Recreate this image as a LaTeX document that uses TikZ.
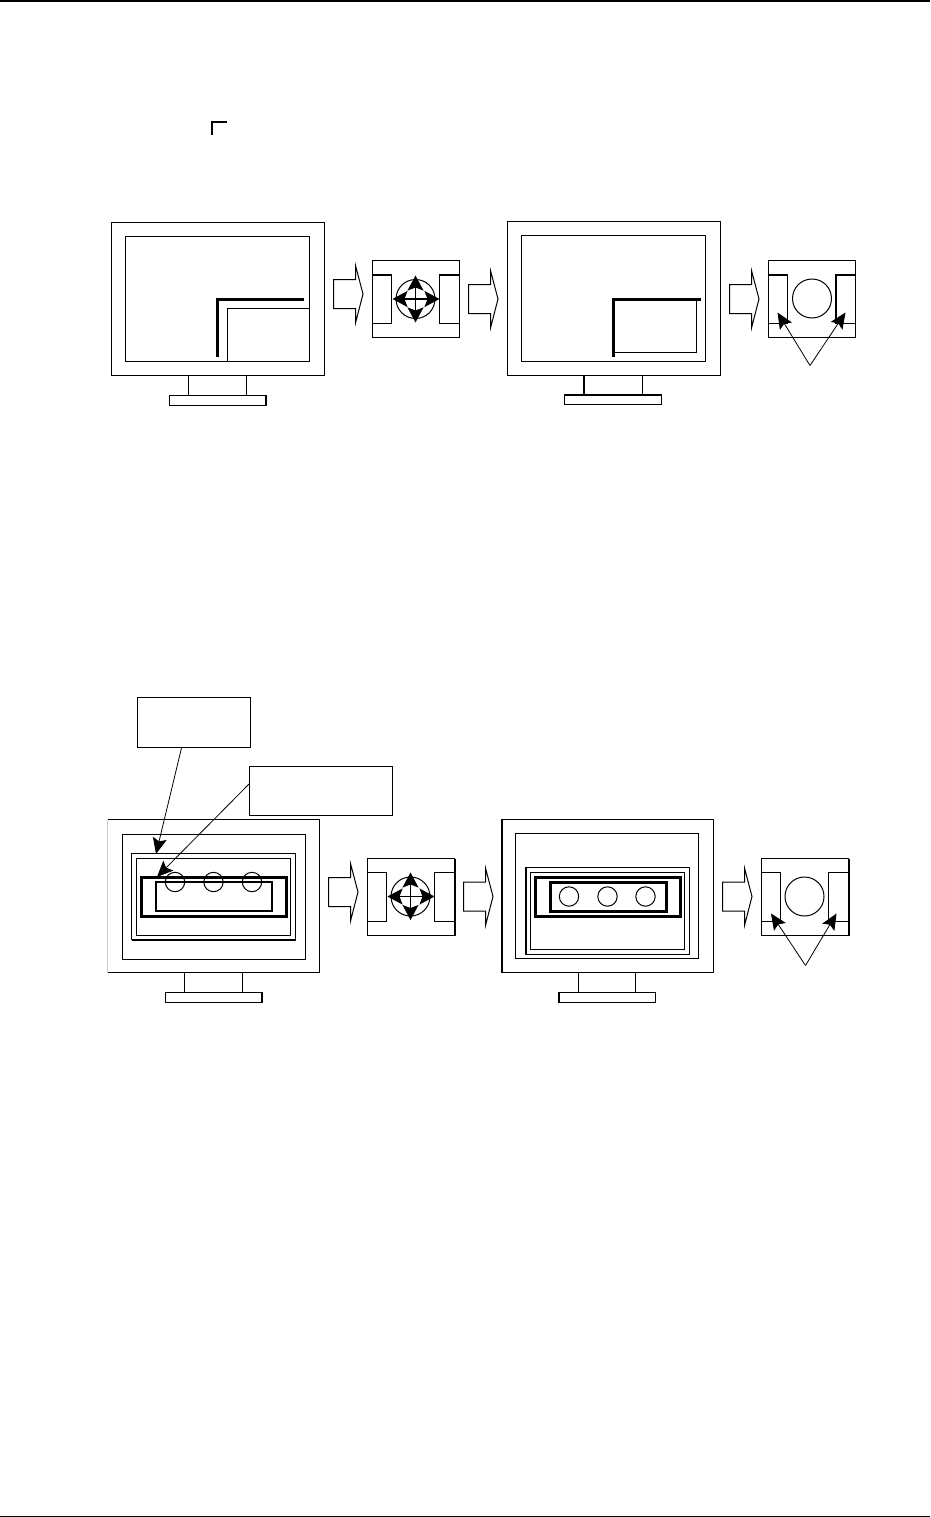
\documentclass[tikz,border=0pt]{standalone}
\usepackage{xcolor}
\usepackage{tikz}
\usetikzlibrary{positioning, arrows.meta}

\begin{document}
\begin{tikzpicture}[
    x=1pt, y=-1pt,
    every path/.style={line width=1pt},
    heavy/.style={line width=2pt},
    heavier/.style={line width=3pt},
    callout/.style={rectangle, draw, line width=1pt, inner sep=0pt, minimum width=#1, minimum height=50pt},
    ringnode/.style={circle, draw, line width=1pt, inner sep=0pt, minimum size=#1},
    arr/.style={-{Stealth[length=16pt, width=14pt, inset=3pt]}, line width=0.8pt},
    crossarr/.style={{Stealth[length=15pt, width=16pt, inset=3pt]}-{Stealth[length=15pt, width=16pt, inset=3pt]}},
]
    \useasboundingbox (0,0) rectangle (930,1517);

    % page rules
    \coordinate (ruleTL) at (0,1);
    \coordinate (ruleTR) at (930,1);
    \coordinate (ruleBL) at (0,1516);
    \coordinate (ruleBR) at (930,1516);
    \draw[heavy] (ruleTL) -- (ruleTR);
    \draw (ruleBL) -- (ruleBR);

    % corner mark
    \draw[line width=1.5pt] (212,135.5) |- (227,122);

    % block arrows between the panels
    \foreach \ax/\ay in {333.5/294, 468.5/299, 729.5/299, 328.5/892, 463.5/896.5, 722.5/896.5} {
        \draw (\ax,\ay-14.5) -- ++(22,0) -- ++(0,-14) -- (\ax+29.5,\ay) -- (\ax+22,\ay+29) -- ++(0,-14.5) -- (\ax,\ay+14.5) -- cycle;
    }

    % first monitor
    \draw (111.5,222.5) rectangle (324.5,375.5);
    \draw (125.5,236.5) rectangle (309.5,361.5);
    \draw (188.5,375.5) -- (188.5,395.5);
    \draw (246.5,375.5) -- (246.5,395.5);
    \draw (169.5,395.5) rectangle (266.5,405.5);
    \draw[heavy] (266,395.5) -- (266,405.5);
    \draw (227.5,361.5) |- (309.5,308.5);
    \draw[heavier] (217.5,356.5) |- (304,299);

    % second monitor
    \draw (507.5,221.5) rectangle (720.5,375.5);
    \draw (521.5,235.5) rectangle (705.5,361.5);
    \draw[heavy] (584,375.5) -- (584,394.5);
    \draw (642.5,375.5) -- (642.5,394.5);
    \draw (564.5,394.5) rectangle (661.5,404.5);
    \draw[heavy] (564.5,395) -- (661.5,395);
    \draw (613.5,352.5) -| (696.5,299);
    \draw[heavier] (613.5,356.5) |- (700.5,299);

    % third monitor
    \draw[gray!40] (107.5,819.5) -- (107.5,972.5);
    \draw (107.5,819.5) -| (319.5,972.5) -- (107.5,972.5);
    \draw (122.5,834.5) rectangle (305.5,959.5);
    \draw (131.5,853.5) rectangle (295.5,939.5);
    \draw[heavy] (131.5,940) -- (295.5,940);
    \draw (136.5,858.5) rectangle (290.5,935.5);
    \draw[heavier] (141,877) rectangle (286.5,916);
    \draw[heavy] (156,882) rectangle (272,910.5);
    \foreach \cx in {175,213.5,252} {
        \draw (\cx,882) circle (9.7);
    }
    \draw (184.5,972.5) -- (184.5,992.5);
    \draw (242.5,972.5) -- (242.5,992.5);
    \draw (165.5,992.5) rectangle (262.5,1002.5);
    \draw[heavy] (262,992.5) -- (262,1002.5);

    % fourth monitor
    \draw (501.5,819.5) rectangle (713.5,972.5);
    \draw[heavy] (502,819.5) -- (502,972.5);
    \draw (515.5,833.5) rectangle (698.5,958.5);
    \draw (525.5,867.5) rectangle (689.5,954.5);
    \draw[heavy] (526,867.5) -- (526,954.5);
    \draw (530.5,872.5) rectangle (684.5,949.5);
    \draw[heavier] (535,877) rectangle (680.5,916);
    \draw[heavier] (550,882) rectangle (666,911);
    \foreach \cx in {569,607.5,645.5} {
        \draw (\cx,896.5) circle (9.7);
    }
    \draw (578.5,972.5) -- (578.5,992.5);
    \draw (635.5,972.5) -- (635.5,992.5);
    \draw (558.5,992.5) rectangle (655.5,1002.5);
    \draw[heavy] (559,992.5) -- (559,1002.5);

    % pads
    \foreach \px/\py in {372.5/260.5, 768.5/260.5, 367.5/858.5, 761.5/858.5} {
        \draw (\px,\py) rectangle +(87,77);
        \draw (\px,\py+14) -| (\px+19,\py+63) -- (\px,\py+63);
        \draw (\px+87,\py+14) -| (\px+67,\py+63) -- (\px+87,\py+63);
    }
    \draw[heavy] (372.5,274.5) -- (391.5,274.5);
    \draw[heavy] (439.5,274.5) -- (459.5,274.5);
    \draw[heavy] (768.5,274.5) -- (787.5,274.5);
    \draw[heavy] (855.5,274.5) -| (836,323.5);
    \draw[heavy] (454.5,858.5) -- (454.5,935.5);
    \draw[heavy] (848.5,858.5) -- (848.5,935.5);

    % pad circles and the marks on them
    \node[ringnode=39pt] (ringA) at (415.5,299) {};
    \node[ringnode=39pt] (ringB) at (812,298.5) {};
    \node[ringnode=39pt] (ringC) at (410.5,896.5) {};
    \node[ringnode=39pt] (ringD) at (804.5,896.5) {};

    \draw[crossarr, line width=1.5pt] (392.5,299) -- (439.5,299);
    \draw[crossarr, line width=1.5pt] (415.5,275.5) -- (415.5,322.5);
    \draw[crossarr] (387.5,896.5) -- (434.5,896.5);
    \draw[crossarr] (410.5,872.5) -- (410.5,920);

    \coordinate (forkA) at (810,365.5);
    \coordinate (forkAl) at (777.5,312.5);
    \coordinate (forkAr) at (845.5,312.5);
    \draw[arr] (forkA) -- (forkAl);
    \draw[arr] (forkA) -- (forkAr);

    \coordinate (forkB) at (805.5,965.5);
    \coordinate (forkBl) at (771,913.5);
    \coordinate (forkBr) at (836.5,913.5);
    \draw[arr] (forkB) -- (forkBl);
    \draw[arr] (forkB) -- (forkBr);

    % callouts
    \node[callout=113pt] (outerbox) at (194,722.5) {};
    \node[callout=143pt, minimum height=49pt] (innerbox) at (321,791) {};

    \coordinate (outertip) at (156,854);
    \coordinate (innertip) at (157,877);
    \draw[arr] (outerbox.south -| 181.5,0) -- (outertip);
    \draw[arr] (innerbox.west |- 0,784) -- (innertip);
\end{tikzpicture}
\end{document}
